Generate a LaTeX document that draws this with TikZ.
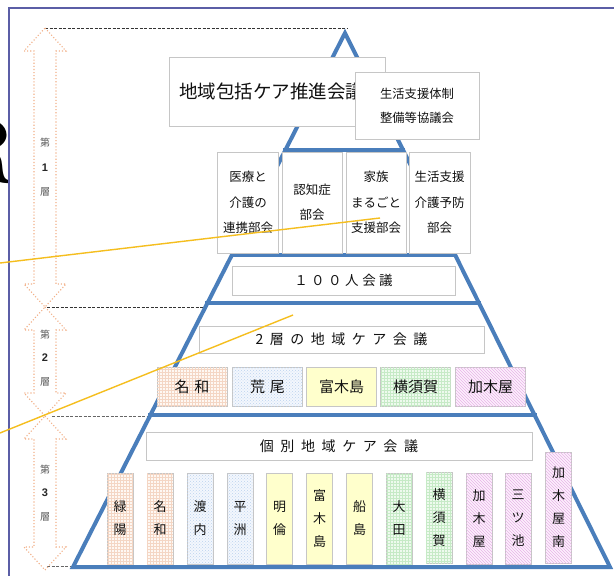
\documentclass[tikz,border=0pt]{standalone}
\usepackage{fontspec}
\newfontfamily\jp{Noto Sans CJK JP}
\newfontfamily\lsans{Liberation Sans}
\usetikzlibrary{patterns,calc}
\definecolor{pyrblue}{HTML}{4A7EBB}
\definecolor{boxgray}{HTML}{C6C6C6}
\definecolor{txt}{HTML}{111111}
\definecolor{arrorange}{HTML}{F2B088}
\definecolor{frameblue}{HTML}{5B5EA6}
\definecolor{yel}{HTML}{F5BE1E}
\definecolor{orfill}{HTML}{FEF8F3}
\definecolor{orpat}{HTML}{F4D6C4}
\definecolor{blfill}{HTML}{F3F7FD}
\definecolor{blpat}{HTML}{BCD2EE}
\definecolor{yefill}{HTML}{FFFFCC}
\definecolor{grfill}{HTML}{EEFAEE}
\definecolor{grpat}{HTML}{C6EAC6}
\definecolor{pkfill}{HTML}{FCF0FC}
\definecolor{pkpat}{HTML}{E8B4E8}
\newcommand\layerarrow[2]{%
  \draw[arrsty] (45,#1) -- (66,#1+23) -- (56,#1+23) -- (56,#2-23) -- (66,#2-23)
    -- (45,#2) -- (24,#2-23) -- (34,#2-23) -- (34,#1+23) -- (24,#1+23) -- cycle;}
\tikzset{
  box/.style={draw=boxgray, line width=0.8pt, fill=white, inner sep=0pt,
    text=txt, font=\jp, align=center},
  bukai/.style={box, minimum width=61pt, minimum height=101pt,
    font=\jp\fontsize{12.5}{25.5}\selectfont},
  cell/.style={box, minimum width=70pt, minimum height=39pt,
    font=\jp\fontsize{15}{18}\selectfont},
  vcell/.style={box, minimum width=26pt, font=\jp\fontsize{13}{23}\selectfont},
  orcell/.style={fill=orfill, postaction={pattern=grid, pattern color=orpat}},
  blcell/.style={fill=blfill, postaction={pattern=crosshatch dots, pattern color=blpat}},
  yecell/.style={fill=yefill},
  grcell/.style={fill=grfill, postaction={pattern=grid, pattern color=grpat}},
  pkcell/.style={fill=pkfill, postaction={pattern=north west lines, pattern color=pkpat}},
  pyr/.style={draw=pyrblue, line width=4pt, line join=miter},
  arrsty/.style={draw=arrorange, line width=1.1pt, dotted},
  dashline/.style={draw=black!80, line width=0.7pt, dash pattern=on 3pt off 1.5pt},
  lbl/.style={text=black!65, font=\jp\fontsize{10}{10}\selectfont, inner sep=0pt},
  num/.style={text=black!85, font=\lsans\bfseries\fontsize{11}{11}\selectfont, inner sep=0pt},
  yline/.style={draw=yel, line width=1.4pt}
}
\begin{document}
\begin{tikzpicture}[x=1pt,y=-1pt]
\useasboundingbox (0,0) rectangle (614,576);
\clip (0,0) rectangle (614,576);
\fill[white] (0,0) rectangle (614,576);

% letter cut off at the left edge, outside the frame
\begin{scope}
\clip (0,0) rectangle (8,576);
\node[anchor=base east, inner sep=0pt, font=\bfseries\fontsize{94}{94}\selectfont] (cutR) at (21,182) {R};
\end{scope}

% frame
\draw[frameblue, line width=1.2pt] (9,580) -- (9,8) -- (620,8);

% dashed level lines
\draw[dashline] (45,28) -- (348,28);
\draw[dashline] (47,307) -- (205,307);
\draw[dashline, draw=black!60] (52,416) -- (150,416);
\draw[dashline, draw=black!60] (47,566) -- (72,566);

% layer arrows
\layerarrow{28}{307}
\layerarrow{307}{416}
\layerarrow{416}{570}
\node[lbl] (l1a) at (45,143) {第};
\node[num] (l1b) at (45,168) {1};
\node[lbl] (l1c) at (45,192) {層};
\node[lbl] (l2a) at (45,335) {第};
\node[num] (l2b) at (45,358) {2};
\node[lbl] (l2c) at (45,382) {層};
\node[lbl] (l3a) at (45,470) {第};
\node[num] (l3b) at (45,493) {3};
\node[lbl] (l3c) at (45,517) {層};

% pyramid
\coordinate (apex) at (345,33);
\coordinate (bl) at (73,567);
\coordinate (br) at (610,567);
\draw[pyr] (apex) -- (bl) -- (br) -- cycle;
\foreach \t in {0.2191,0.4157,0.5056,0.7154}{
  \draw[pyr, line cap=rect] ($(apex)!\t!(bl)$) -- ($(apex)!\t!(br)$);
}

% top level
\node[box, minimum width=216pt, minimum height=69pt, font=\jp\fontsize{18.5}{20}\selectfont]
  (suishin) at (277,91.5) {\hspace*{-11pt}地域包括ケア推進会議};
\node[box, minimum width=124pt, minimum height=67pt, font=\jp\fontsize{12.3}{24}\selectfont]
  (kyogikai) at (417,106) {生活支援体制\\整備等協議会};

\node[bukai] (iryo) at (248,202.5) {医療と\\介護の\\連携部会};
\node[bukai, minimum width=60pt] (ninchi) at (312,202.5) {認知症\\部会};
\node[bukai, minimum width=60pt] (kazoku) at (376,202.5) {家族\\まるごと\\支援部会};
\node[bukai] (seikatsu) at (439.5,202.5) {生活支援\\介護予防\\部会};

\node[box, minimum width=223pt, minimum height=29pt, font=\jp\fontsize{13.5}{15}\selectfont]
  (hyaku) at (343.5,280.5)
  {１\hspace{3.5pt}０\hspace{3.5pt}０\hspace{3.5pt}人\hspace{3.5pt}会\hspace{3.5pt}議};

% layer 2
\node[box, minimum width=285pt, minimum height=27pt, font=\jp\fontsize{14}{16}\selectfont]
  (sou2) at (341.5,339.5)
  {2\hspace{6.5pt}層\hspace{6.5pt}の\hspace{6.5pt}地\hspace{6.5pt}域\hspace{6.5pt}ケ\hspace{6.5pt}ア\hspace{6.5pt}会\hspace{6.5pt}議};
\node[cell, orcell] (c2a) at (192,386.5) {名\hspace{5pt}和};
\node[cell, blcell] (c2b) at (267.5,386.5) {荒\hspace{5pt}尾};
\node[cell, yecell] (c2c) at (341.5,386.5) {富木島};
\node[cell, grcell] (c2d) at (415.5,386.5) {横須賀};
\node[cell, pkcell] (c2e) at (490.5,386.5) {加木屋};

% layer 3
\node[box, minimum width=386pt, minimum height=28pt, font=\jp\fontsize{14}{16}\selectfont]
  (kobetsu) at (339,446)
  {個\hspace{6.6pt}別\hspace{6.6pt}地\hspace{6.6pt}域\hspace{6.6pt}ケ\hspace{6.6pt}ア\hspace{6.6pt}会\hspace{6.6pt}議};
\node[vcell, orcell, minimum height=91pt] (c3a) at (120,518.5) {緑\\陽};
\node[vcell, orcell, minimum height=91pt] (c3b) at (160,518.5) {名\\和};
\node[vcell, blcell, minimum height=91pt] (c3c) at (200,518.5) {渡\\内};
\node[vcell, blcell, minimum height=91pt] (c3d) at (240,518.5) {平\\洲};
\node[vcell, yecell, minimum height=91pt] (c3e) at (279.5,518.5) {明\\倫};
\node[vcell, yecell, minimum height=91pt] (c3f) at (319.5,518.5) {富\\木\\島};
\node[vcell, yecell, minimum height=91pt] (c3g) at (359.5,518.5) {船\\島};
\node[vcell, grcell, minimum height=91pt] (c3h) at (399,518.5) {大\\田};
\node[vcell, grcell, minimum height=91pt] (c3i) at (439,517.5) {横\\須\\賀};
\node[vcell, pkcell, minimum height=91pt] (c3j) at (479,518.5) {加\\木\\屋};
\node[vcell, pkcell, minimum height=91pt] (c3k) at (518,518.5) {三\\ツ\\池};
\node[vcell, pkcell, minimum height=111pt] (c3l) at (558.5,507.5) {加\\木\\屋\\南};

% yellow leader lines
\coordinate (ya1) at (0,263);
\coordinate (yb1) at (380,218);
\coordinate (ya2) at (0,433);
\coordinate (yb2) at (293,315);
\draw[yline] (ya1) -- (yb1);
\draw[yline] (ya2) -- (yb2);
\end{tikzpicture}
\end{document}
